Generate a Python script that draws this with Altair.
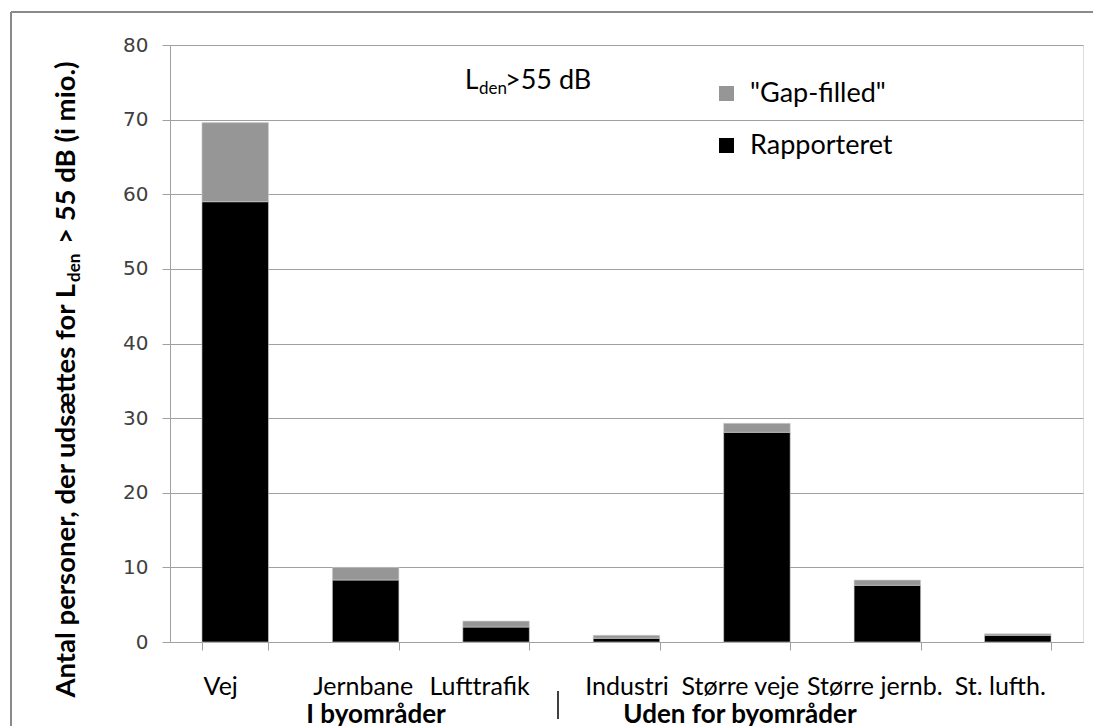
import altair as alt
import pandas as pd

categories = ["Vej", "Jernbane", "Lufttrafik", "Industri", "Større veje", "Større jernb.", "St. lufth."]
rapporteret = [59.0, 8.3, 2.0, 0.5, 28.1, 7.6, 0.9]
gap_filled = [10.6, 1.7, 0.8, 0.4, 1.2, 0.7, 0.2]
series_names = ['"Gap-filled"', "Rapporteret"]
series_colors = ["#969696", "#000000"]
label_offsets = {"Vej": -15, "Jernbane": -3, "Lufttrafik": -17, "Industri": 0,
                 "Større veje": -17, "Større jernb.": -13, "St. lufth.": -18}

rows = []
for c, r, g in zip(categories, rapporteret, gap_filled):
    rows.append({"kat": c, "serie": "Rapporteret", "val": r, "ord": 0})
    rows.append({"kat": c, "serie": '"Gap-filled"', "val": g, "ord": 1})
df = pd.DataFrame(rows)

W, H = 913, 597
LEFT, TOP = 170, 45
FONT = "Lato"

offset_cond = {"condition": [{"test": f"datum.value == '{k}'", "value": v} for k, v in label_offsets.items()],
               "value": 0}

bars = alt.Chart(df).mark_bar(stroke="#d0d0d0", strokeWidth=0.6).encode(
    x=alt.X("kat:N", sort=categories, title=None,
            scale=alt.Scale(paddingInner=0.49, paddingOuter=0.245),
            axis=alt.Axis(labelAngle=0, labelFont=FONT, labelFontSize=25, labelColor="#000",
                          labelPadding=24, labelOffset=offset_cond, tickBand="extent",
                          tickSize=8, tickColor="#a0a0a0", domainColor="#a0a0a0", grid=False)),
    y=alt.Y("val:Q", stack="zero", title=None,
            scale=alt.Scale(domain=[0, 80], nice=False),
            axis=alt.Axis(values=list(range(0, 81, 10)), labelFont="DejaVu Sans", labelFontSize=20,
                          labelColor="#404040", labelPadding=14, tickSize=8, tickColor="#a0a0a0",
                          domainColor="#a0a0a0", gridColor="#a0a0a0", gridWidth=1)),
    color=alt.Color("serie:N", scale=alt.Scale(domain=series_names, range=series_colors),
                    legend=alt.Legend(title=None, orient="none", legendX=543, legendY=35,
                                      symbolType="square", symbolSize=225, symbolStrokeWidth=0,
                                      labelFont=FONT, labelFontSize=27, labelColor="#000",
                                      rowPadding=24, labelOffset=10)),
    order=alt.Order("ord:Q"),
)

def txt(text, x, y, size, weight="normal", angle=0, align="left", baseline="alphabetic"):
    d = pd.DataFrame({"t": [text]})
    kw = dict(font=FONT, fontSize=size, fontWeight=weight, color="#000", align=align, baseline=baseline)
    if angle:
        kw["angle"] = angle
    return alt.Chart(d).mark_text(**kw).encode(text="t:N", x=alt.value(x), y=alt.value(y))

# annotation L_den >55 dB
ann = (txt("L", 465 - LEFT, 89 - TOP, 26)
       + txt("den", 479 - LEFT, 94 - TOP, 17)
       + txt(">55 dB", 505 - LEFT, 89 - TOP, 27))

# rotated y title with subscript
yt = (txt("Antal personer, der udsættes for L", 75 - LEFT, 284 - TOP, 27.5, "bold", 270, "right")
      + txt("den", 80 - LEFT, 282 - TOP, 17, "bold", 270, "left")
      + txt("> 55 dB (i mio.)", 75 - LEFT, 244 - TOP, 27.5, "bold", 270, "left"))

groups = (txt("I byområder", 376 - LEFT, 723 - TOP, 26, "bold", align="center")
          + txt("Uden for byområder", 740 - LEFT, 723 - TOP, 26, "bold", align="center"))

sep = alt.Chart(pd.DataFrame({"a": [0]})).mark_rule(color="#000", strokeWidth=1.5).encode(
    x=alt.value(558 - LEFT), y=alt.value(691 - TOP), y2=alt.value(719 - TOP))

frame_left = alt.Chart(pd.DataFrame({"a": [0]})).mark_rule(color="#8a8a8a", strokeWidth=2).encode(
    x=alt.value(11 - LEFT), y=alt.value(12 - TOP), y2=alt.value(726 - TOP))
frame_top = alt.Chart(pd.DataFrame({"a": [0]})).mark_rule(color="#8a8a8a", strokeWidth=2).encode(
    x=alt.value(11 - LEFT), x2=alt.value(1093 - LEFT), y=alt.value(12 - TOP))

chart = alt.layer(bars, ann, yt, groups, sep, frame_left, frame_top).properties(
    width=W, height=H,
    autosize=alt.AutoSizeParams(type="none"),
    padding={"left": LEFT, "top": TOP, "right": 1093 - LEFT - W, "bottom": 726 - TOP - H},
).configure_view(stroke=None).configure(background="white")

chart.save("out.html", embed_options={"renderer": "svg", "actions": False})
